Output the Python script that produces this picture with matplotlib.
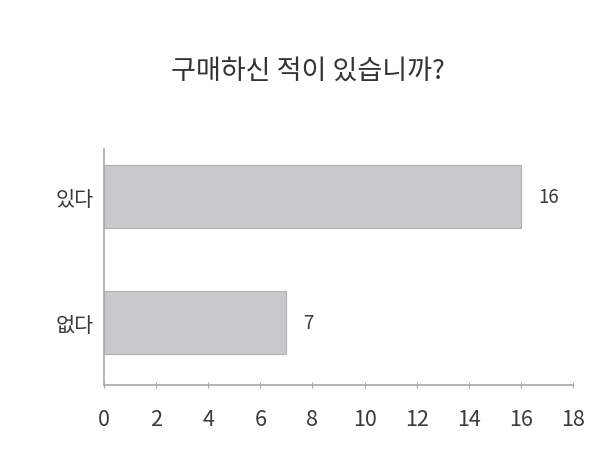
import matplotlib.pyplot as plt

plt.rcParams['font.family'] = ['Noto Sans CJK KR', 'DejaVu Sans']

categories = ['없다', '있다']
counts = [7, 16]
x_ticks = [0, 2, 4, 6, 8, 10, 12, 14, 16, 18]
title = '구매하신 적이 있습니까?'

fig = plt.figure(figsize=(6.15, 4.6), dpi=100)
ax = fig.add_axes([0.169, 0.161, 0.763, 0.513])

ypos = list(range(len(categories)))
ax.barh(ypos, counts, height=0.5, color='#c9c9cb', edgecolor='#b0b0b0', linewidth=0.8)

# value labels at the end of each bar
for y, v in zip(ypos, counts):
    ax.text(v + 0.65, y, str(v), va='center', ha='left', fontsize=13.5,
            color='#3a3a3a', fontweight='light')

ax.set_xlim(0, 18)
ax.set_ylim(-0.5, 1.38)
ax.set_xticks(x_ticks)
ax.set_xticklabels([str(t) for t in x_ticks], fontsize=15.5, color='#3a3a3a', fontweight='light')
ax.set_yticks(ypos)
ax.set_yticklabels(categories, fontsize=15, color='#3a3a3a')

for s in ['top', 'right']:
    ax.spines[s].set_visible(False)
for s in ['left', 'bottom']:
    ax.spines[s].set_color('#a8a8a8')
    ax.spines[s].set_linewidth(1.2)

ax.tick_params(axis='x', direction='inout', length=5, color='#a8a8a8', pad=14)
ax.tick_params(axis='y', length=0, pad=7)

fig.text(0.5, 0.845, title, ha='center', va='center', fontsize=19.5, color='#333333')

fig.savefig('out.png', dpi=100)
